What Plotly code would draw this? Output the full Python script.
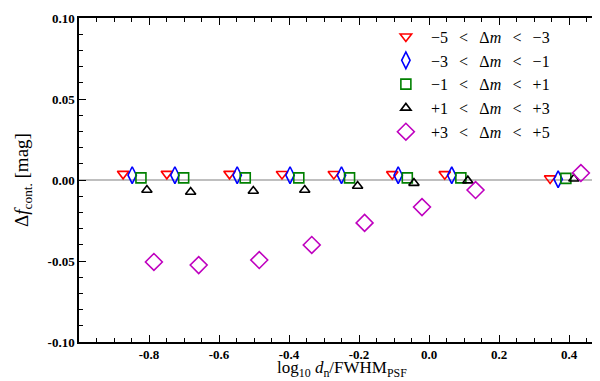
"""Contamination offset versus separation, per magnitude-difference bin."""

import plotly.graph_objects as go

# x positions (log10 d_n / FWHM_PSF) for each magnitude bin
x_m5_m3 = [-0.874, -0.749, -0.570, -0.420, -0.272, -0.105, 0.045, 0.346]
x_m3_m1 = [-0.848, -0.726, -0.548, -0.397, -0.250, -0.088, 0.065, 0.369]
x_m1_p1 = [-0.823, -0.701, -0.525, -0.372, -0.227, -0.062, 0.091, 0.391]
x_p1_p3 = [-0.806, -0.681, -0.502, -0.355, -0.204, -0.043, 0.111, 0.414]
x_p3_p5 = [-0.786, -0.658, -0.485, -0.335, -0.184, -0.020, 0.133, 0.434]

# Delta f_cont. [mag]
y_m5_m3 = [0.0038, 0.0038, 0.0038, 0.0037, 0.0037, 0.0036, 0.0036, 0.0010]
y_m3_m1 = [0.0030, 0.0030, 0.0030, 0.0030, 0.0030, 0.0030, 0.0029, 0.0005]
y_m1_p1 = [0.0013, 0.0013, 0.0013, 0.0013, 0.0013, 0.0013, 0.0013, 0.0010]
y_p1_p3 = [-0.0062, -0.0074, -0.0068, -0.0062, -0.0037, -0.0019, -0.0004, 0.0008]
y_p3_p5 = [-0.0506, -0.0525, -0.0494, -0.0401, -0.0265, -0.0167, -0.0062, 0.0043]

sp = "\u2002\u2009"  # en + thin space, mimics the wide relation spacing
labels = [
    f"\u22125{sp}<{sp}\u0394<i>m</i>{sp}<{sp}\u22123",
    f"\u22123{sp}<{sp}\u0394<i>m</i>{sp}<{sp}\u22121",
    f"\u22121{sp}<{sp}\u0394<i>m</i>{sp}<{sp}+1",
    f"+1{sp}<{sp}\u0394<i>m</i>{sp}<{sp}+3",
    f"+3{sp}<{sp}\u0394<i>m</i>{sp}<{sp}+5",
]

x_tickvals = [-0.8, -0.6, -0.4, -0.2, 0.0, 0.2, 0.4]
x_ticktext = ["-0.8", "-0.6", "-0.4", "-0.2", "0.0", "0.2", "0.4"]
y_tickvals = [-0.10, -0.05, 0.0, 0.05, 0.10]
y_ticktext = ["-0.10", "-0.05", "0.00", "0.05", "0.10"]

series = [
    (x_m5_m3, y_m5_m3, labels[0], "triangle-down-open", "#ff0000", 10),
    (x_m3_m1, y_m3_m1, labels[1], "diamond-tall-open", "#0000ff", 12),
    (x_m1_p1, y_m1_p1, labels[2], "square-open", "#008000", 10),
    (x_p1_p3, y_p1_p3, labels[3], "triangle-up-open", "#000000", 9),
    (x_p3_p5, y_p3_p5, labels[4], "diamond-open", "#bf00bf", 13),
]

fig = go.Figure()

for xs, ys, name, symbol, color, size in series:
    fig.add_trace(go.Scatter(
        x=xs, y=ys, name=name, mode="markers",
        marker=dict(symbol=symbol, color=color, size=size,
                    line=dict(color=color, width=1.6)),
    ))

# zero reference line
fig.add_hline(y=0, line=dict(color="#808080", width=1.2), layer="below")

serif = "Liberation Serif, DejaVu Serif, serif"
axis_common = dict(
    showgrid=False, zeroline=False, showline=True, linecolor="black",
    linewidth=1.5, mirror="allticks", ticks="inside", ticklen=7,
    tickwidth=1.2, tickcolor="black",
    tickfont=dict(family=serif, size=13, color="black", weight="bold"),
)

fig.update_layout(
    width=600, height=381,
    margin=dict(l=71, r=2, t=10, b=47),
    paper_bgcolor="white", plot_bgcolor="white",
    font=dict(family=serif, color="black"),
    showlegend=True,
    legend=dict(
        x=0.575, y=0.995, xanchor="left", yanchor="top",
        bgcolor="rgba(0,0,0,0)", font=dict(family=serif, size=16),
        itemwidth=40, tracegroupgap=0,
    ),
    xaxis=dict(
        range=[-1.0, 0.5], tickvals=x_tickvals, ticktext=x_ticktext,
        minor=dict(dtick=0.05, ticks="inside", ticklen=4, tickcolor="black"),
        **axis_common,
    ),
    yaxis=dict(
        range=[-0.10, 0.10], tickvals=y_tickvals, ticktext=y_ticktext,
        minor=dict(dtick=0.01, ticks="inside", ticklen=4, tickcolor="black"),
        title=dict(text="\u0394<i>f</i><sub>cont.</sub> [mag]",
                   font=dict(family=serif, size=19), standoff=14),
        **axis_common,
    ),
)

# x-axis title as a paper annotation so the subscripts stay inside the page
fig.add_annotation(
    text="log<sub>10</sub> <i>d</i><sub>n</sub>/FWHM<sub>PSF</sub>",
    xref="paper", yref="paper", x=0.5, y=-0.043,
    xanchor="center", yanchor="top", showarrow=False,
    font=dict(family=serif, size=17, color="black"),
)

fig.write_html("out.html")
